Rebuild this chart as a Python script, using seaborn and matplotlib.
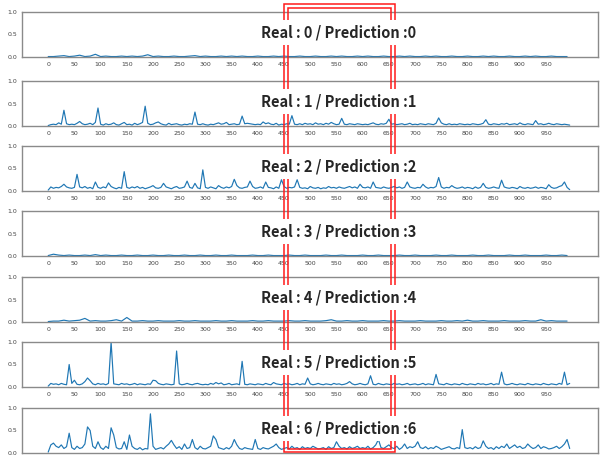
import numpy as np
import matplotlib
matplotlib.use("Agg")
import matplotlib.pyplot as plt
from matplotlib.patches import Rectangle
import seaborn as sns

# sample positions (fine = every 5, coarse = every 10)
x_fine = np.arange(0, 1000, 5)
x_coarse = np.arange(0, 1000, 10)

class_0 = [0.01, 0.01, 0.02, 0.03, 0.01, 0.02, 0.04, 0.01, 0.02, 0.06,
           0.01, 0.02, 0.01, 0.01, 0.02, 0.01, 0.02, 0.01, 0.02, 0.05,
           0.01, 0.02, 0.01, 0.01, 0.02, 0.01, 0.01, 0.02, 0.03, 0.01,
           0.02, 0.01, 0.01, 0.02, 0.01, 0.02, 0.01, 0.02, 0.01, 0.01,
           0.02, 0.01, 0.01, 0.02, 0.01, 0.02, 0.01, 0.01, 0.02, 0.01,
           0.01, 0.02, 0.01, 0.01, 0.02, 0.01, 0.02, 0.01, 0.01, 0.02,
           0.01, 0.02, 0.01, 0.01, 0.02, 0.01, 0.01, 0.02, 0.01, 0.02,
           0.01, 0.01, 0.02, 0.01, 0.02, 0.01, 0.01, 0.02, 0.01, 0.01,
           0.02, 0.01, 0.01, 0.02, 0.01, 0.02, 0.01, 0.01, 0.02, 0.01,
           0.01, 0.02, 0.01, 0.02, 0.01, 0.01, 0.02, 0.01, 0.01, 0.01]

class_1 = [0.01, 0.03, 0.04, 0.03, 0.07, 0.04, 0.35, 0.05, 0.03, 0.04, 0.03, 0.06, 0.10, 0.05, 0.03, 0.04, 0.06, 0.03, 0.08, 0.40,
           0.04, 0.02, 0.05, 0.03, 0.04, 0.07, 0.03, 0.02, 0.05, 0.08, 0.03, 0.04, 0.02, 0.06, 0.03, 0.05, 0.08, 0.44, 0.06, 0.03,
           0.04, 0.07, 0.09, 0.05, 0.03, 0.02, 0.06, 0.03, 0.04, 0.05, 0.03, 0.02, 0.04, 0.03, 0.05, 0.04, 0.31, 0.04, 0.03, 0.05,
           0.03, 0.02, 0.04, 0.03, 0.05, 0.07, 0.04, 0.05, 0.08, 0.03, 0.04, 0.05, 0.03, 0.04, 0.22, 0.05, 0.06, 0.05, 0.04, 0.03,
           0.04, 0.03, 0.09, 0.05, 0.07, 0.04, 0.03, 0.06, 0.02, 0.04, 0.03, 0.05, 0.04, 0.23, 0.04, 0.03, 0.05, 0.03, 0.06, 0.04,
           0.05, 0.03, 0.07, 0.04, 0.05, 0.03, 0.06, 0.04, 0.08, 0.05, 0.03, 0.04, 0.17, 0.04, 0.03, 0.05, 0.04, 0.03, 0.05, 0.04,
           0.03, 0.04, 0.03, 0.05, 0.07, 0.04, 0.03, 0.05, 0.04, 0.06, 0.15, 0.04, 0.05, 0.03, 0.04, 0.05, 0.03, 0.04, 0.06, 0.03,
           0.04, 0.03, 0.05, 0.04, 0.03, 0.05, 0.04, 0.03, 0.06, 0.18, 0.07, 0.04, 0.03, 0.05, 0.03, 0.04, 0.03, 0.05, 0.04, 0.03,
           0.04, 0.03, 0.05, 0.04, 0.03, 0.04, 0.06, 0.14, 0.04, 0.03, 0.05, 0.04, 0.03, 0.05, 0.04, 0.06, 0.03, 0.04, 0.05, 0.03,
           0.07, 0.04, 0.03, 0.05, 0.04, 0.03, 0.12, 0.04, 0.05, 0.03, 0.04, 0.06, 0.04, 0.03, 0.05, 0.04, 0.03, 0.04, 0.03, 0.02]

class_2 = [0.02, 0.09, 0.06, 0.08, 0.07, 0.10, 0.15, 0.09, 0.07, 0.06, 0.08, 0.37, 0.09, 0.07, 0.10, 0.06, 0.08, 0.05, 0.20, 0.08,
           0.06, 0.09, 0.07, 0.18, 0.10, 0.07, 0.05, 0.08, 0.06, 0.43, 0.08, 0.06, 0.09, 0.07, 0.10, 0.06, 0.08, 0.05, 0.07, 0.09,
           0.12, 0.07, 0.06, 0.08, 0.17, 0.09, 0.07, 0.05, 0.08, 0.10, 0.06, 0.07, 0.09, 0.22, 0.08, 0.06, 0.17, 0.07, 0.05, 0.47,
           0.08, 0.06, 0.09, 0.07, 0.05, 0.12, 0.08, 0.06, 0.09, 0.07, 0.10, 0.26, 0.12, 0.07, 0.06, 0.08, 0.09, 0.22, 0.10, 0.06,
           0.07, 0.09, 0.06, 0.20, 0.08, 0.07, 0.05, 0.09, 0.06, 0.25, 0.10, 0.06, 0.08, 0.07, 0.09, 0.25, 0.08, 0.06, 0.07, 0.05,
           0.10, 0.07, 0.06, 0.08, 0.05, 0.07, 0.06, 0.10, 0.07, 0.08, 0.06, 0.09, 0.07, 0.06, 0.08, 0.10, 0.07, 0.09, 0.06, 0.15,
           0.08, 0.07, 0.09, 0.06, 0.20, 0.08, 0.07, 0.06, 0.09, 0.07, 0.06, 0.08, 0.10, 0.07, 0.09, 0.06, 0.08, 0.20, 0.09, 0.07,
           0.06, 0.08, 0.07, 0.15, 0.09, 0.06, 0.08, 0.07, 0.10, 0.30, 0.09, 0.06, 0.08, 0.07, 0.12, 0.08, 0.06, 0.07, 0.09, 0.06,
           0.08, 0.07, 0.05, 0.09, 0.06, 0.08, 0.17, 0.08, 0.06, 0.07, 0.09, 0.07, 0.06, 0.24, 0.09, 0.07, 0.06, 0.08, 0.07, 0.05,
           0.10, 0.07, 0.06, 0.08, 0.06, 0.07, 0.09, 0.06, 0.08, 0.07, 0.05, 0.14, 0.08, 0.06, 0.07, 0.10, 0.12, 0.20, 0.08, 0.03]

class_3 = [0.01, 0.04, 0.02, 0.01, 0.02, 0.01, 0.01, 0.02, 0.01, 0.03,
           0.01, 0.02, 0.01, 0.01, 0.02, 0.01, 0.01, 0.02, 0.01, 0.01,
           0.02, 0.01, 0.01, 0.02, 0.01, 0.01, 0.02, 0.01, 0.01, 0.02,
           0.01, 0.01, 0.02, 0.01, 0.01, 0.02, 0.01, 0.01, 0.01, 0.02,
           0.01, 0.01, 0.02, 0.01, 0.01, 0.01, 0.02, 0.01, 0.01, 0.02,
           0.01, 0.01, 0.01, 0.02, 0.01, 0.01, 0.02, 0.01, 0.01, 0.01,
           0.02, 0.01, 0.01, 0.02, 0.01, 0.01, 0.01, 0.02, 0.01, 0.01,
           0.02, 0.01, 0.01, 0.01, 0.02, 0.01, 0.01, 0.02, 0.01, 0.01,
           0.01, 0.02, 0.01, 0.01, 0.02, 0.01, 0.01, 0.01, 0.02, 0.01,
           0.01, 0.02, 0.01, 0.01, 0.01, 0.02, 0.01, 0.01, 0.02, 0.01]

class_4 = [0.01, 0.02, 0.02, 0.04, 0.02, 0.03, 0.04, 0.08, 0.02, 0.03,
           0.02, 0.02, 0.03, 0.05, 0.02, 0.10, 0.02, 0.02, 0.03, 0.02,
           0.02, 0.03, 0.02, 0.02, 0.02, 0.03, 0.02, 0.02, 0.03, 0.02,
           0.02, 0.02, 0.03, 0.02, 0.02, 0.03, 0.02, 0.02, 0.02, 0.03,
           0.02, 0.02, 0.03, 0.02, 0.02, 0.02, 0.03, 0.02, 0.02, 0.03,
           0.02, 0.02, 0.02, 0.03, 0.05, 0.02, 0.02, 0.03, 0.02, 0.02,
           0.03, 0.02, 0.02, 0.02, 0.03, 0.02, 0.02, 0.03, 0.02, 0.02,
           0.02, 0.03, 0.02, 0.02, 0.02, 0.03, 0.02, 0.02, 0.03, 0.02,
           0.04, 0.02, 0.02, 0.03, 0.02, 0.02, 0.02, 0.03, 0.02, 0.02,
           0.02, 0.03, 0.02, 0.02, 0.05, 0.02, 0.03, 0.02, 0.02, 0.02]

class_5 = [0.02, 0.08, 0.06, 0.07, 0.05, 0.08, 0.06, 0.05, 0.50, 0.08, 0.15, 0.06, 0.05, 0.07, 0.12, 0.20, 0.14, 0.07, 0.05, 0.08,
           0.06, 0.07, 0.05, 0.08, 1.00, 0.07, 0.06, 0.05, 0.08, 0.06, 0.07, 0.05, 0.06, 0.08, 0.05, 0.07, 0.06, 0.05, 0.07, 0.06,
           0.15, 0.14, 0.08, 0.06, 0.05, 0.07, 0.06, 0.05, 0.06, 0.80, 0.07, 0.05, 0.06, 0.08, 0.06, 0.05, 0.07, 0.08, 0.06, 0.05,
           0.06, 0.05, 0.08, 0.06, 0.10, 0.07, 0.09, 0.05, 0.06, 0.08, 0.05, 0.06, 0.07, 0.05, 0.57, 0.06, 0.05, 0.07, 0.06, 0.05,
           0.07, 0.06, 0.05, 0.08, 0.06, 0.05, 0.10, 0.07, 0.06, 0.05, 0.08, 0.06, 0.07, 0.05, 0.06, 0.08, 0.05, 0.07, 0.06, 0.20,
           0.07, 0.05, 0.06, 0.08, 0.06, 0.05, 0.07, 0.06, 0.05, 0.08, 0.06, 0.07, 0.05, 0.06, 0.08, 0.12, 0.07, 0.05, 0.06, 0.08,
           0.06, 0.05, 0.07, 0.25, 0.06, 0.05, 0.08, 0.06, 0.05, 0.07, 0.06, 0.05, 0.08, 0.06, 0.07, 0.05, 0.06, 0.08, 0.05, 0.06,
           0.07, 0.05, 0.06, 0.08, 0.05, 0.07, 0.06, 0.05, 0.28, 0.07, 0.06, 0.05, 0.08, 0.06, 0.05, 0.07, 0.06, 0.05, 0.08, 0.06,
           0.05, 0.07, 0.06, 0.05, 0.08, 0.06, 0.07, 0.05, 0.06, 0.08, 0.05, 0.07, 0.06, 0.33, 0.07, 0.05, 0.06, 0.08, 0.06, 0.05,
           0.07, 0.06, 0.05, 0.08, 0.06, 0.05, 0.07, 0.06, 0.05, 0.08, 0.06, 0.05, 0.07, 0.06, 0.05, 0.08, 0.06, 0.33, 0.05, 0.08]

class_6 = [0.02, 0.18, 0.22, 0.15, 0.12, 0.18, 0.10, 0.14, 0.44, 0.12, 0.08, 0.15, 0.10, 0.12, 0.20, 0.58, 0.50, 0.15, 0.10, 0.25,
           0.12, 0.08, 0.15, 0.10, 0.56, 0.40, 0.12, 0.09, 0.10, 0.25, 0.08, 0.40, 0.15, 0.10, 0.08, 0.12, 0.07, 0.10, 0.09, 0.87,
           0.15, 0.08, 0.10, 0.12, 0.09, 0.15, 0.20, 0.28, 0.18, 0.10, 0.14, 0.08, 0.20, 0.10, 0.12, 0.30, 0.12, 0.08, 0.15, 0.10,
           0.09, 0.12, 0.15, 0.38, 0.30, 0.12, 0.10, 0.08, 0.12, 0.09, 0.15, 0.30, 0.18, 0.10, 0.08, 0.12, 0.10, 0.09, 0.08, 0.30,
           0.10, 0.08, 0.12, 0.10, 0.09, 0.12, 0.15, 0.20, 0.12, 0.08, 0.10, 0.12, 0.09, 0.15, 0.10, 0.12, 0.08, 0.14, 0.10, 0.12,
           0.10, 0.15, 0.12, 0.09, 0.10, 0.12, 0.08, 0.14, 0.10, 0.12, 0.25, 0.15, 0.10, 0.12, 0.09, 0.14, 0.10, 0.12, 0.15, 0.10,
           0.12, 0.10, 0.15, 0.09, 0.12, 0.18, 0.30, 0.12, 0.10, 0.14, 0.18, 0.12, 0.10, 0.15, 0.08, 0.12, 0.20, 0.10, 0.14, 0.12,
           0.15, 0.25, 0.12, 0.10, 0.14, 0.09, 0.12, 0.10, 0.15, 0.12, 0.08, 0.10, 0.12, 0.14, 0.10, 0.09, 0.12, 0.10, 0.52, 0.12,
           0.10, 0.12, 0.09, 0.14, 0.10, 0.12, 0.27, 0.15, 0.10, 0.12, 0.08, 0.14, 0.10, 0.15, 0.12, 0.20, 0.10, 0.14, 0.18, 0.12,
           0.15, 0.10, 0.12, 0.20, 0.14, 0.10, 0.12, 0.18, 0.10, 0.14, 0.12, 0.09, 0.10, 0.12, 0.15, 0.10, 0.14, 0.20, 0.30, 0.10]

class_labels = [0, 1, 2, 3, 4, 5, 6]
series = [(x_coarse, class_0), (x_fine, class_1), (x_fine, class_2), (x_coarse, class_3),
          (x_coarse, class_4), (x_fine, class_5), (x_fine, class_6)]

sns.set_style("white")
plt.rcParams['font.family'] = ['DejaVu Sans']

W, H = 602, 458
fig = plt.figure(figsize=(W / 100, H / 100), dpi=100)

ax_tops = [12, 81, 146, 211, 277, 342, 408]
ax_h = 45
for k, (xs, ys) in enumerate(series):
    top = ax_tops[k]
    ax = fig.add_axes([22 / W, 1 - (top + ax_h) / H, 576 / W, ax_h / H])
    sns.lineplot(x=xs, y=ys, ax=ax, color='#1f77b4', lw=0.85)
    ax.set_xlim(-50, 1049)
    ax.set_ylim(0, 1)
    ax.set_xticks(np.arange(0, 1000, 50))
    ax.set_yticks([0, 0.5, 1.0])
    ax.tick_params(labelsize=4.5, length=2, width=0.5, pad=1.5, colors='#444444')
    if k == len(series) - 1:
        # the bottom row's tick labels fall below the picture edge
        ax.tick_params(labelbottom=False)
    for s in ax.spines.values():
        s.set_color('#8a8a8a')
        s.set_linewidth(1.0)
    fig.text(339 / W, 1 - (top + ax_h * 0.46) / H,
             f"Real : {class_labels[k]} / Prediction :{class_labels[k]}",
             ha='center', va='center', fontsize=10.5, fontweight='bold',
             family=['Noto Sans CJK KR', 'DejaVu Sans'], zorder=5,
             bbox=dict(facecolor='white', edgecolor='none', pad=3))

# double red box marking the 400-650 window
for (l, r, t, b) in [(284, 394.5, 4, 452), (287.5, 391, 7.5, 448.5)]:
    fig.patches.append(Rectangle((l / W, 1 - b / H), (r - l) / W, (b - t) / H,
                                 transform=fig.transFigure, fill=False,
                                 edgecolor='#ff1a1a', lw=1.1, zorder=2))

fig.savefig("out.png", dpi=100)
